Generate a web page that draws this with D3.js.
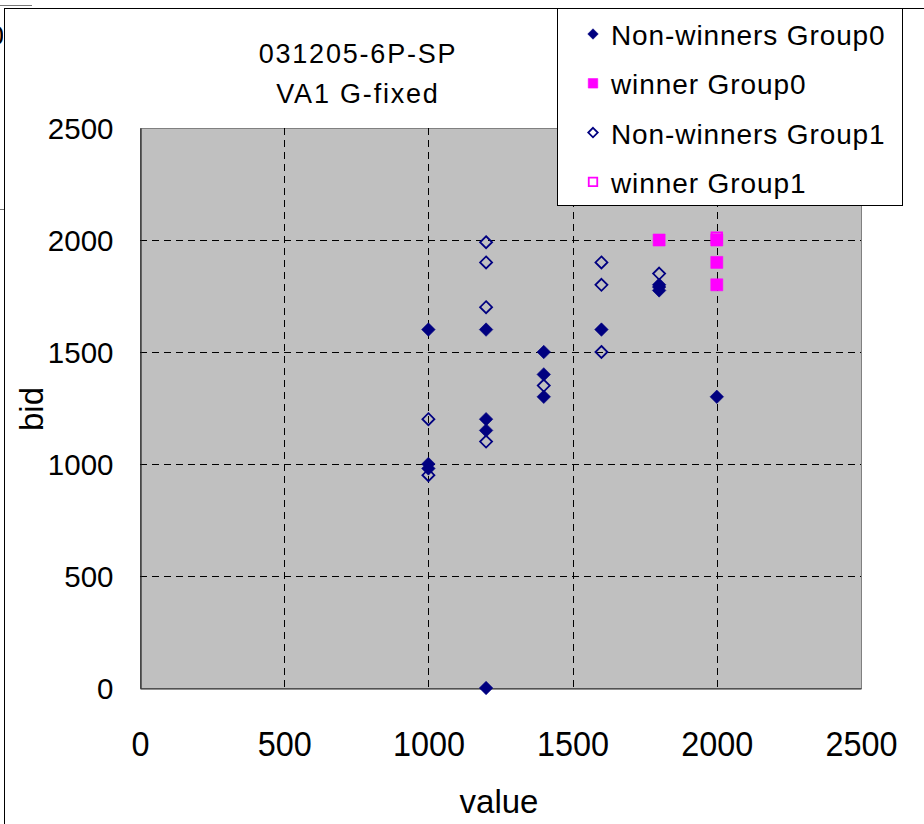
<!DOCTYPE html>
<html>
<head>
<meta charset="utf-8">
<script src="https://cdn.jsdelivr.net/npm/d3@7"></script>
<style>
  html, body { margin: 0; padding: 0; background: #fff; }
  svg { display: block; font-family: "Liberation Sans", Arial, sans-serif; }
</style>
</head>
<body>
<svg id="chart" width="924" height="824"></svg>
<script>
// Bids plotted against private value, split by group and by auction outcome
const titleLines = ["031205-6P-SP", "VA1 G-fixed"];
const xTicks = [0, 500, 1000, 1500, 2000, 2500];
const yTicks = [0, 500, 1000, 1500, 2000, 2500];

const nonWinnersG0Value = [1000, 1000, 1000, 1200, 1200, 1200, 1200, 1400, 1400, 1400, 1600, 1800, 1800, 1800, 2000];
const nonWinnersG0Bid   = [1600, 1000,  980, 1600, 1200, 1150,    0, 1500, 1400, 1300, 1600, 1800, 1790, 1775, 1300];

const winnerG0Value = [1800, 2000, 2000, 2000];
const winnerG0Bid   = [2000, 2000, 1900, 1800];

const nonWinnersG1Value = [1000, 1000, 1200, 1200, 1200, 1200, 1400, 1600, 1600, 1600, 1800];
const nonWinnersG1Bid   = [1200,  950, 1990, 1900, 1700, 1100, 1350, 1900, 1800, 1500, 1850];

const winnerG1Value = [2000];
const winnerG1Bid   = [2010];

const seriesNames = ["Non-winners Group0", "winner Group0", "Non-winners Group1", "winner Group1"];

const NAVY = "#000080", MAGENTA = "#ff00ff";

const series = [
  { name: seriesNames[0], xs: nonWinnersG0Value, ys: nonWinnersG0Bid, shape: "diamond", filled: true,  color: NAVY },
  { name: seriesNames[1], xs: winnerG0Value,     ys: winnerG0Bid,     shape: "square",  filled: true,  color: MAGENTA },
  { name: seriesNames[2], xs: nonWinnersG1Value, ys: nonWinnersG1Bid, shape: "diamond", filled: false, color: NAVY },
  { name: seriesNames[3], xs: winnerG1Value,     ys: winnerG1Bid,     shape: "square",  filled: false, color: MAGENTA }
];

const svg = d3.select("#chart");

// Edge of a neighbouring chart sheet peeking out on the left
const back = svg.append("g");
back.append("line").attr("x1", 0).attr("x2", 32).attr("y1", 5.5).attr("y2", 5.5).attr("stroke", "#777");
back.append("line").attr("x1", 0).attr("x2", 4).attr("y1", 209.5).attr("y2", 209.5).attr("stroke", "#777");
svg.append("defs").append("clipPath").attr("id", "edgeClip")
  .append("rect").attr("x", 0).attr("y", 0).attr("width", 3).attr("height", 60);
back.append("text").attr("clip-path", "url(#edgeClip)")
  .attr("x", 4).attr("y", 45).attr("text-anchor", "end")
  .attr("font-size", 28).text("0");

// Chart frame
svg.append("rect").attr("x", 4.5).attr("y", 8.5).attr("width", 940).attr("height", 840)
  .attr("fill", "#fff").attr("stroke", "#000").attr("stroke-width", 1);

const plot = { left: 140, right: 861, top: 128, bottom: 688 };

const x = d3.scaleLinear().domain([0, 2500]).range([plot.left, plot.right]);
const y = d3.scaleLinear().domain([0, 2500]).range([plot.bottom, plot.top]);

// Plot area
svg.append("rect")
  .attr("x", plot.left + 0.5).attr("y", plot.top + 0.5)
  .attr("width", plot.right - plot.left).attr("height", plot.bottom - plot.top)
  .attr("fill", "#c0c0c0").attr("stroke", "#808080").attr("stroke-width", 1);

// Dashed gridlines
const grid = svg.append("g").attr("stroke", "#000").attr("stroke-width", 1).attr("stroke-dasharray", "7,5");
grid.selectAll("line.gx").data(xTicks.filter(d => d > 0 && d < 2500)).join("line")
  .attr("class", "gx")
  .attr("x1", d => Math.round(x(d)) + 0.5).attr("x2", d => Math.round(x(d)) + 0.5)
  .attr("y1", plot.top).attr("y2", plot.bottom);
grid.selectAll("line.gy").data(yTicks.filter(d => d > 0 && d < 2500)).join("line")
  .attr("class", "gy")
  .attr("x1", plot.left).attr("x2", plot.right)
  .attr("y1", d => Math.round(y(d)) + 0.5).attr("y2", d => Math.round(y(d)) + 0.5);

// Axes
const xAxis = svg.append("g").attr("transform", `translate(0,${plot.bottom + 0.5})`)
  .call(d3.axisBottom(x).tickValues(xTicks).tickSize(0).tickPadding(0).tickFormat(d3.format("d")));
xAxis.select(".domain").attr("stroke", "#222").attr("stroke-width", 1.2);
xAxis.selectAll("text")
  .attr("font-family", "Liberation Sans, Arial, sans-serif")
  .attr("font-size", 36).attr("fill", "#000")
  .attr("dy", 0).attr("y", 68)
  .attr("transform", "scale(0.9,1)");

const yAxis = svg.append("g").attr("transform", `translate(${plot.left + 0.5},0)`)
  .call(d3.axisLeft(y).tickValues(yTicks).tickSize(0).tickPadding(0).tickFormat(d3.format("d")));
yAxis.select(".domain").attr("stroke", "#222").attr("stroke-width", 1.2);
yAxis.selectAll("text")
  .attr("font-family", "Liberation Sans, Arial, sans-serif")
  .attr("font-size", 29.5).attr("fill", "#000")
  .attr("x", -27).attr("dy", 10.5)
  .attr("text-anchor", "end");

// Axis titles
svg.append("text").attr("x", 499).attr("y", 813).attr("text-anchor", "middle")
  .attr("font-size", 33).text("value");
svg.append("text").attr("transform", "translate(43,409) rotate(-90)").attr("text-anchor", "middle")
  .attr("font-size", 33).text("bid");

// Title
svg.append("g").selectAll("text").data(titleLines).join("text")
  .attr("x", 358).attr("y", (d, i) => 63 + i * 40)
  .attr("text-anchor", "middle").attr("font-size", 27).attr("letter-spacing", 1.8)
  .text(d => d);

// Marker path generator
function markerPath(shape, size) {
  const h = size / 2;
  if (shape === "diamond") return `M0,${-h}L${h},0L0,${h}L${-h},0Z`;
  return `M${-h},${-h}H${h}V${h}H${-h}Z`;
}
function styleMarker(sel, s, size) {
  sel.attr("d", markerPath(s.shape, size))
    .attr("fill", s.filled ? s.color : "none")
    .attr("stroke", s.color)
    .attr("stroke-width", s.filled ? 0.6 : 1.8);
}

// Data points
const pts = svg.append("g");
series.forEach(s => {
  const data = s.xs.map((v, i) => [v, s.ys[i]]);
  pts.append("g").selectAll("path").data(data).join("path")
    .attr("transform", d => `translate(${x(d[0])},${y(d[1])})`)
    .call(sel => styleMarker(sel, s, s.shape === "diamond" ? (s.filled ? 13.5 : 12) : (s.filled ? 12 : 10.5)));
});

// Legend
const legend = svg.append("g");
legend.append("rect").attr("x", 557.5).attr("y", 8.5).attr("width", 345).attr("height", 197)
  .attr("fill", "#fff").attr("stroke", "#000").attr("stroke-width", 1);
const rows = legend.selectAll("g.row").data(series).join("g")
  .attr("class", "row")
  .attr("transform", (d, i) => `translate(0,${45 + i * 49.3})`);
rows.each(function(s) {
  const g = d3.select(this);
  g.append("path").attr("transform", "translate(593,-11)")
    .call(sel => styleMarker(sel, s, s.shape === "diamond" ? (s.filled ? 10.5 : 9.5) : (s.filled ? 9.5 : 8.5)));
  g.append("text").attr("x", 611).attr("y", 0).attr("font-size", 28).attr("letter-spacing", 0.9)
    .text(s.name);
});
</script>
</body>
</html>
